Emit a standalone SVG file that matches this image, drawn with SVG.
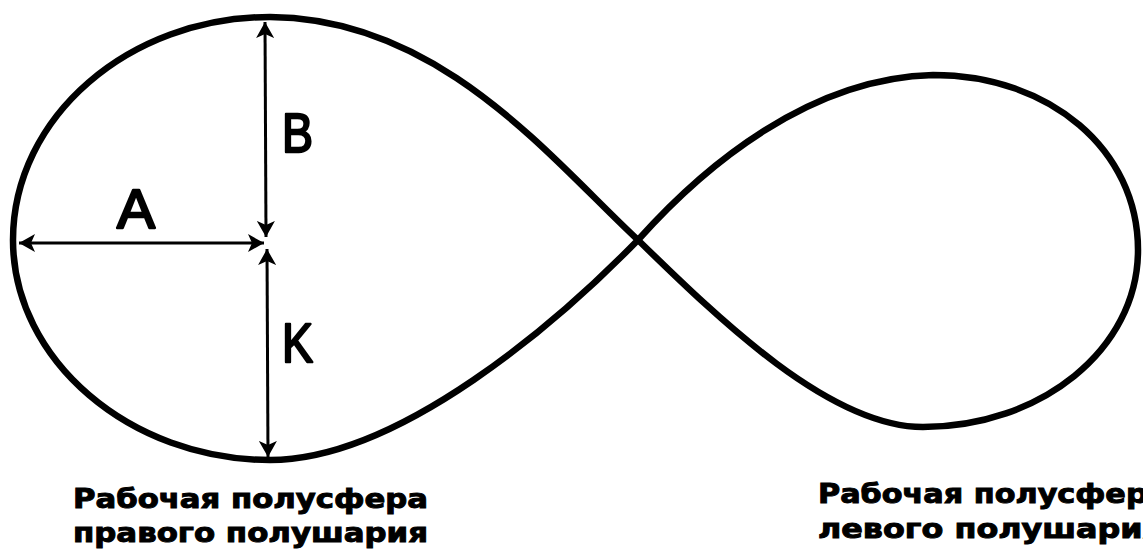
<svg xmlns="http://www.w3.org/2000/svg" width="1143" height="554" viewBox="0 0 1143 554">
<style>
.loop{fill:none;stroke:#000;stroke-width:6.5;stroke-linejoin:round}
.dim{stroke:#000;stroke-width:3;fill:none}
.lbl{font-family:"Liberation Sans",Arial,sans-serif;font-size:56px;fill:#000;stroke:#000;stroke-width:2.4;stroke-linejoin:round}
.cap{font-family:"DejaVu Sans","Liberation Sans",sans-serif;font-weight:bold;font-size:27px;fill:#000;stroke:#000;stroke-width:1}
</style>
<defs>
<marker id="ah" viewBox="0 0 16 18" refX="16" refY="9" markerWidth="16" markerHeight="18" markerUnits="userSpaceOnUse" orient="auto-start-reverse">
<path d="M0,0 L16,9 L0,18 L4,9 Z" fill="#000"/>
</marker>
</defs>
<rect width="1143" height="554" fill="#fff"/>
<g id="figure8">
<path class="loop" d="M638,240 C550,158 440,18 270,17 C129,17 13,117 13,240 C13,360 130,460 270,460 C400,460 560,320 638,240 C705,165 810,78 933,75 C1050,75 1138,150 1138,250 C1138,350 1040,427 923,427 C830,427 720,320 638,240 Z"/>
</g>
<g id="connectors">
<line class="dim" x1="265" y1="22" x2="266" y2="237" marker-start="url(#ah)" marker-end="url(#ah)"/>
<line class="dim" x1="19" y1="243" x2="264" y2="243" marker-start="url(#ah)" marker-end="url(#ah)"/>
<line class="dim" x1="267" y1="249" x2="268" y2="457" marker-start="url(#ah)" marker-end="url(#ah)"/>
</g>
<g id="label-A"><text class="lbl" x="117" y="228" textLength="38" lengthAdjust="spacingAndGlyphs">A</text></g>
<g id="label-B"><text class="lbl" x="282" y="152" textLength="31" lengthAdjust="spacingAndGlyphs">B</text></g>
<g id="label-K"><text class="lbl" x="282" y="362" textLength="31" lengthAdjust="spacingAndGlyphs">K</text></g>
<g id="caption-right-hemisphere">
<text class="cap" x="73" y="508" textLength="355" lengthAdjust="spacingAndGlyphs">Рабочая полусфера</text>
<text class="cap" x="73" y="542" textLength="355" lengthAdjust="spacingAndGlyphs">правого полушария</text>
</g>
<g id="caption-left-hemisphere">
<text class="cap" x="818" y="503" textLength="350" lengthAdjust="spacingAndGlyphs">Рабочая полусфера</text>
<text class="cap" x="818" y="538" textLength="345" lengthAdjust="spacingAndGlyphs">левого полушария</text>
</g>
</svg>
